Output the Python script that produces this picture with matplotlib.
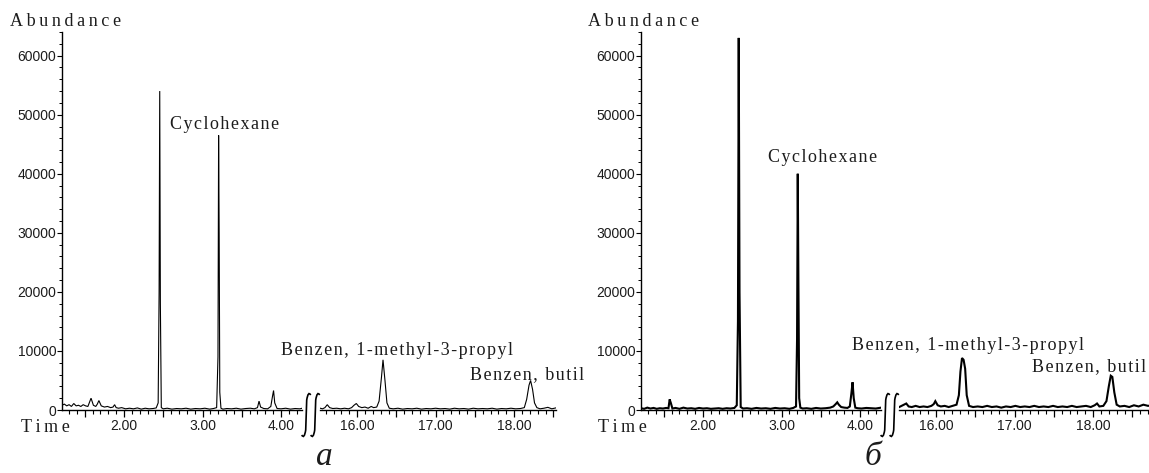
import matplotlib
matplotlib.use('Agg')
from matplotlib import pyplot as plt
from matplotlib.path import Path
from matplotlib.patches import PathPatch
from matplotlib.ticker import MultipleLocator, FuncFormatter

W, H = 1149, 473

# Chromatogram a (left panel), two time windows
time_a1 = [
    1.21, 1.24, 1.27, 1.30, 1.33, 1.36, 1.39, 1.42, 1.45, 1.48,
    1.51, 1.54, 1.56, 1.58, 1.61, 1.64, 1.66, 1.68, 1.71, 1.75,
    1.79, 1.83, 1.86, 1.88, 1.90, 1.93, 1.97, 2.02, 2.07, 2.12,
    2.17, 2.22, 2.27, 2.32, 2.37, 2.41, 2.435, 2.447, 2.455, 2.463,
    2.475, 2.50, 2.55, 2.61, 2.67, 2.73, 2.79, 2.85, 2.91, 2.97,
    3.03, 3.09, 3.14, 3.18, 3.197, 3.205, 3.212, 3.22, 3.235, 3.26,
    3.31, 3.37, 3.43, 3.49, 3.55, 3.61, 3.66, 3.70, 3.72, 3.74,
    3.78, 3.83, 3.87, 3.89, 3.905, 3.92, 3.95, 4.00, 4.06, 4.12,
    4.18, 4.24, 4.27]
abund_a1 = [
    800, 1000, 700, 900, 600, 1100, 700, 800, 600, 900,
    700, 600, 1300, 2000, 800, 600, 1000, 1600, 700, 500,
    600, 400, 500, 900, 400, 300, 400, 200, 300, 200,
    350, 150, 300, 200, 250, 350, 1200, 20000, 54000, 18000,
    400, 200, 300, 150, 250, 200, 300, 150, 250, 200,
    300, 150, 250, 400, 9000, 46500, 30000, 3000, 300, 150,
    250, 200, 300, 150, 250, 300, 200, 400, 1500, 500,
    250, 200, 600, 2200, 3300, 1200, 250, 200, 300, 150,
    250, 200, 300]
time_a2 = [
    15.53, 15.56, 15.59, 15.62, 15.65, 15.69, 15.74, 15.79, 15.84, 15.89,
    15.93, 15.96, 15.99, 16.02, 16.06, 16.10, 16.14, 16.18, 16.21, 16.25,
    16.28, 16.31, 16.33, 16.355, 16.38, 16.41, 16.46, 16.52, 16.58, 16.64,
    16.70, 16.76, 16.82, 16.88, 16.94, 17.00, 17.06, 17.12, 17.18, 17.24,
    17.30, 17.36, 17.42, 17.48, 17.54, 17.60, 17.66, 17.72, 17.78, 17.84,
    17.90, 17.96, 18.02, 18.08, 18.13, 18.16, 18.19, 18.21, 18.235, 18.26,
    18.29, 18.33, 18.38, 18.43, 18.48, 18.53]
abund_a2 = [
    300, 200, 400, 900, 400, 250, 300, 200, 300, 200,
    400, 800, 1100, 600, 400, 500, 300, 600, 400, 500,
    1500, 5500, 8500, 5000, 1200, 300, 200, 300, 150, 250,
    200, 300, 150, 250, 200, 300, 200, 250, 150, 300,
    200, 250, 150, 300, 200, 250, 200, 300, 150, 250,
    200, 300, 200, 250, 400, 1800, 4200, 5000, 3500, 1200,
    400, 200, 300, 450, 200, 350]

# Chromatogram б (right panel)
time_b1 = [
    1.21, 1.25, 1.29, 1.33, 1.37, 1.41, 1.45, 1.49, 1.53, 1.56,
    1.575, 1.59, 1.61, 1.65, 1.70, 1.75, 1.80, 1.85, 1.90, 1.95,
    2.00, 2.05, 2.10, 2.15, 2.20, 2.25, 2.30, 2.35, 2.40, 2.43,
    2.445, 2.455, 2.465, 2.48, 2.51, 2.56, 2.62, 2.68, 2.74, 2.80,
    2.86, 2.92, 2.98, 3.04, 3.10, 3.15, 3.185, 3.198, 3.207, 3.215,
    3.225, 3.24, 3.27, 3.32, 3.38, 3.44, 3.50, 3.56, 3.62, 3.66,
    3.69, 3.71, 3.73, 3.76, 3.80, 3.84, 3.87, 3.89, 3.905, 3.92,
    3.94, 3.97, 4.02, 4.08, 4.14, 4.20, 4.27]
abund_b1 = [
    300, 200, 400, 250, 350, 200, 300, 250, 350, 300,
    1800, 1200, 250, 350, 200, 400, 250, 300, 200, 350,
    250, 300, 200, 250, 300, 200, 300, 250, 350, 800,
    15000, 63000, 20000, 500, 250, 300, 200, 350, 250, 300,
    200, 350, 250, 300, 200, 350, 600, 12000, 40000, 22000,
    2000, 400, 250, 300, 200, 350, 250, 300, 400, 600,
    1000, 1300, 900, 500, 400, 350, 600, 2800, 4700, 2000,
    400, 300, 250, 350, 300, 250, 400]
time_b2 = [
    15.53, 15.56, 15.59, 15.62, 15.65, 15.69, 15.74, 15.79, 15.84, 15.89,
    15.94, 15.97, 15.99, 16.02, 16.06, 16.11, 16.16, 16.21, 16.26, 16.29,
    16.31, 16.33, 16.35, 16.37, 16.39, 16.42, 16.47, 16.53, 16.59, 16.65,
    16.71, 16.77, 16.83, 16.89, 16.95, 17.01, 17.07, 17.13, 17.19, 17.25,
    17.31, 17.37, 17.43, 17.49, 17.55, 17.61, 17.67, 17.73, 17.79, 17.85,
    17.91, 17.97, 18.02, 18.05, 18.08, 18.13, 18.17, 18.20, 18.225, 18.245,
    18.27, 18.30, 18.34, 18.40, 18.46, 18.52, 18.58, 18.64, 18.70, 18.75]
abund_b2 = [
    500, 700, 900, 1100, 600, 500, 700, 500, 600, 500,
    700, 1000, 1500, 800, 600, 700, 500, 700, 900, 2500,
    6500, 8800, 8500, 7000, 2500, 700, 500, 600, 500, 700,
    500, 600, 400, 600, 500, 700, 500, 600, 500, 700,
    500, 600, 500, 700, 500, 600, 500, 700, 500, 600,
    700, 500, 800, 1100, 600, 700, 1500, 4000, 5800, 5600,
    3000, 900, 600, 700, 500, 800, 600, 900, 700, 800]

# time windows shown on either side of the axis break
window1 = (1.21, 4.27)
window2_start = 15.53
window2_end_a = 18.53
window2_end_b = 18.75

SERIF = ['Liberation Serif', 'DejaVu Serif']
SANS = ['Liberation Sans', 'DejaVu Sans']
INK = '#1c1c1c'
HAIR = '\u200a'
THIN = '\u2009'

SCALE = 78.5          # pixels per minute
Y_BASE, Y_TOP = 410, 32
GAP = 18

fig = plt.figure(figsize=(W / 100, H / 100), dpi=100)


def ftext(x, y, s, **kw):
    kw.setdefault('family', SERIF)
    kw.setdefault('size', 13)
    kw.setdefault('color', INK)
    kw.setdefault('va', 'center')
    fig.text(x / W, 1 - y / H, s, **kw)


def tracked(s, sp=HAIR):
    # loose letter spacing like the instrument printout
    return sp.join(s)


def fmt_time(v, pos):
    if abs(v - round(v)) < 1e-6:
        return f"{v:.2f}"
    return ""


def add_seg(x0, t0, t1, show_y):
    x1 = x0 + (t1 - t0) * SCALE
    ax = fig.add_axes([x0 / W, 1 - Y_BASE / H, (x1 - x0) / W, (Y_BASE - Y_TOP) / H])
    ax.set_xlim(t0, t1)
    ax.set_ylim(0, 64000)
    ax.patch.set_alpha(0)
    for s in ['top', 'right']:
        ax.spines[s].set_visible(False)
    ax.spines['bottom'].set_linewidth(1.0)
    ax.xaxis.set_major_locator(MultipleLocator(0.5))
    ax.xaxis.set_minor_locator(MultipleLocator(0.1))
    ax.xaxis.set_major_formatter(FuncFormatter(fmt_time))
    ax.tick_params(axis='x', which='major', length=5, width=0.9, pad=1.5,
                   labelsize=10, labelcolor=INK)
    ax.tick_params(axis='x', which='minor', length=3, width=0.8)
    if show_y:
        ax.spines['left'].set_linewidth(1.0)
        ax.yaxis.set_major_locator(MultipleLocator(10000))
        ax.yaxis.set_minor_locator(MultipleLocator(2000))
        ax.yaxis.set_major_formatter(FuncFormatter(lambda v, p: f"{int(v)}"))
        ax.tick_params(axis='y', which='major', length=3.5, width=0.8, pad=0.5,
                       labelsize=10, labelcolor=INK)
        ax.tick_params(axis='y', which='minor', length=2, width=0.7)
    else:
        ax.spines['left'].set_visible(False)
        ax.set_yticks([])
    for lab in ax.get_xticklabels() + ax.get_yticklabels():
        lab.set_family(SANS)
    return ax, x1


def draw_break(x, top=392, bot=438):
    pts = [(x + 4.5, top + 3), (x + 2, top - 1.5), (x + 0.5, top + 8),
           (x - 0.5, bot - 8), (x - 2, bot + 1.5), (x - 4.5, bot - 3)]
    codes = [Path.MOVETO, Path.CURVE3, Path.CURVE3,
             Path.LINETO, Path.CURVE3, Path.CURVE3]
    verts = [(px / W, 1 - py / H) for px, py in pts]
    fig.add_artist(PathPatch(Path(verts, codes), fill=False, lw=1.2,
                             ec='black', transform=fig.transFigure))


def draw_panel(x0, t1, a1, t2_end, t2, a2, lw):
    ax1, xe = add_seg(x0, window1[0], window1[1], True)
    ax1.plot(t1, a1, color='black', lw=lw, solid_joinstyle='miter')
    ax2, _ = add_seg(xe + GAP, window2_start, t2_end, False)
    ax2.plot(t2, a2, color='black', lw=lw, solid_joinstyle='miter')
    draw_break(xe + 4)
    draw_break(xe + 13)


draw_panel(62, time_a1, abund_a1, window2_end_a, time_a2, abund_a2, 0.8)
draw_panel(641, time_b1, abund_b1, window2_end_b, time_b2, abund_b2, 1.5)

# labels, left panel
ftext(10, 22, tracked('Abundance', THIN))
ftext(21, 427, tracked('Time', THIN))
ftext(170, 124, tracked('Cyclohexane'))
ftext(281, 350, tracked('Benzen, 1-methyl-3-propyl'))
ftext(470, 375, tracked('Benzen, butil'))
ftext(324, 457, 'а', style='italic', size=24, ha='center')

# labels, right panel
ftext(588, 22, tracked('Abundance', THIN))
ftext(598, 427, tracked('Time', THIN))
ftext(768, 158, tracked('Cyclohexane'))
ftext(852, 346, tracked('Benzen, 1-methyl-3-propyl'))
ftext(1146, 367, tracked('Benzen, butil'), ha='right')
ftext(873, 457, 'б', style='italic', size=24, ha='center')

fig.savefig('out.png', dpi=100)
